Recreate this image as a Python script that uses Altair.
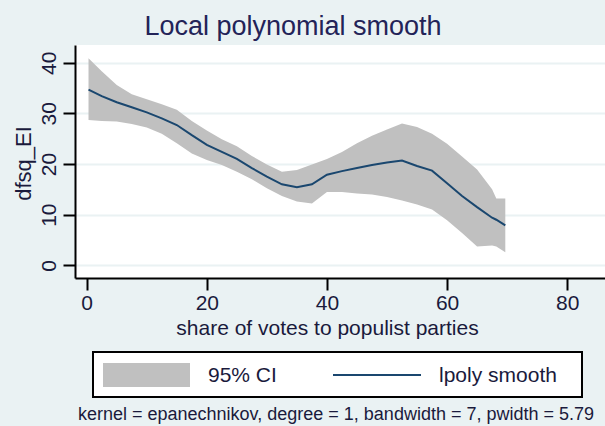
import altair as alt
import pandas as pd

# Local polynomial fit of dfsq_EI on populist vote share, with 95% CI
vote_share = [0.3, 2.5, 5, 7.5, 10, 12.5, 15, 17.5, 20, 22.5, 25, 27.5, 30, 32.5,
              35, 37.5, 40, 42.5, 45, 47.5, 50, 52.5, 55, 57.5, 60, 62.5, 65,
              67.5, 68.2, 69.7]
smooth = [34.7, 33.4, 32.2, 31.2, 30.2, 29.0, 27.7, 25.7, 23.8, 22.4, 21.0, 19.2,
          17.5, 16.0, 15.4, 16.0, 17.9, 18.6, 19.2, 19.8, 20.3, 20.7, 19.6, 18.7,
          16.2, 13.7, 11.5, 9.4, 9.0, 7.9]
ci_upper = [40.9, 38.3, 35.6, 33.8, 32.8, 31.8, 30.7, 28.5, 26.6, 24.9, 23.5, 21.6,
            19.9, 18.5, 18.8, 19.9, 21.0, 22.4, 24.1, 25.6, 26.8, 28.0, 27.3, 26.0,
            24.0, 21.5, 18.9, 15.0, 13.2, 13.2]
ci_lower = [28.7, 28.5, 28.4, 27.9, 27.2, 26.0, 24.1, 22.1, 20.8, 19.8, 18.5, 17.0,
            15.2, 13.7, 12.6, 12.2, 14.5, 14.5, 14.2, 14.0, 13.5, 12.8, 12.0, 11.0,
            8.9, 6.4, 3.7, 3.9, 3.7, 2.6]

x_ticks = [0, 20, 40, 60, 80]
y_ticks = [0, 10, 20, 30, 40]
legend_labels = ["95% CI", "lpoly smooth"]
title = "Local polynomial smooth"
note = "kernel = epanechnikov, degree = 1, bandwidth = 7, pwidth = 5.79"

FONT = "Liberation Sans"
TEXT = "#1a1a3c"
NAVY = "#1a476f"
BAND = "#c0c0c0"
BG = "#eaf2f3"

df = pd.DataFrame({"x": vote_share, "fit": smooth, "hi": ci_upper, "lo": ci_lower})

xscale = alt.Scale(domain=[-1.95, 86.3], nice=False, zero=False)
yscale = alt.Scale(domain=[-2.5, 43.5], nice=False, zero=False)

xaxis = alt.Axis(
    values=x_ticks, title="share of votes to populist parties", grid=False,
    tickSize=12, tickWidth=2, tickColor="black", domainColor="black", domainWidth=2,
    labelFontSize=21, labelFont=FONT, labelColor=TEXT, labelBaseline="alphabetic",
    labelPadding=19, labelFlush=False, labelOverlap=False,
    titleFontSize=21, titleFont=FONT, titleColor=TEXT, titleFontWeight="normal",
    titleX=252, titleY=56, titleAlign="center", titleBaseline="alphabetic",
)
yaxis = alt.Axis(
    values=y_ticks, title="dfsq_EI", grid=True, gridColor=BG, gridWidth=2,
    tickSize=12, tickWidth=2, tickColor="black", domainColor="black", domainWidth=2,
    labelFontSize=21, labelFont=FONT, labelColor=TEXT, labelAngle=270,
    labelAlign="center", labelBaseline="alphabetic", labelPadding=8,
    labelFlush=False, labelOverlap=False,
    titleFontSize=22, titleFont=FONT, titleColor=TEXT, titleFontWeight="normal",
    titleAngle=270, titleX=-45, titleY=118, titleAlign="center",
    titleBaseline="alphabetic",
)

base = alt.Chart(df)
band = base.mark_area(color=BAND, opacity=1).encode(
    x=alt.X("x:Q", scale=xscale, axis=xaxis),
    y=alt.Y("hi:Q", scale=yscale, axis=yaxis),
    y2="lo:Q",
)
line = base.mark_line(color=NAVY, strokeWidth=2).encode(
    x=alt.X("x:Q", scale=xscale),
    y=alt.Y("fit:Q", scale=yscale),
)

one = alt.Data(values=[{"k": 1}])

# chart title above the plot region
title_text = alt.Chart(pd.DataFrame({"label": [title]})).mark_text(
    align="center", baseline="alphabetic", fontSize=27, font=FONT, color="#232358"
).encode(
    x=alt.value(218), y=alt.value(-10), text="label:N"
)

# legend box below the plot
legend_box = alt.Chart(one).mark_rect(fill="white", stroke="black", strokeWidth=2).encode(
    x=alt.value(18), x2=alt.value(507), y=alt.value(307), y2=alt.value(352)
)
legend_swatch = alt.Chart(one).mark_rect(fill=BAND).encode(
    x=alt.value(28), x2=alt.value(115), y=alt.value(318), y2=alt.value(342)
)
legend_line = alt.Chart(one).mark_rule(color=NAVY, strokeWidth=2).encode(
    x=alt.value(258), x2=alt.value(346), y=alt.value(330)
)
legend_text = alt.Chart(pd.DataFrame({"label": legend_labels, "px": [133, 364]})).mark_text(
    align="left", baseline="middle", fontSize=21, font=FONT, color=TEXT
).encode(
    x=alt.X("px:Q", scale=None), y=alt.value(331), text="label:N"
)
note_text = alt.Chart(pd.DataFrame({"label": [note]})).mark_text(
    align="center", baseline="middle", fontSize=18, font=FONT, color=TEXT
).encode(
    x=alt.value(261), y=alt.value(370), text="label:N"
)

chart = alt.layer(
    band, line, title_text, legend_box, legend_swatch, legend_line, legend_text, note_text
).properties(
    width=530,
    height=233,
    autosize=alt.AutoSizeParams(type="none"),
    padding={"left": 75, "top": 45, "right": 0, "bottom": 148},
    background=BG,
).configure_view(fill="white", stroke=None)

chart.save("out.html", embed_options={"renderer": "svg", "actions": False})
